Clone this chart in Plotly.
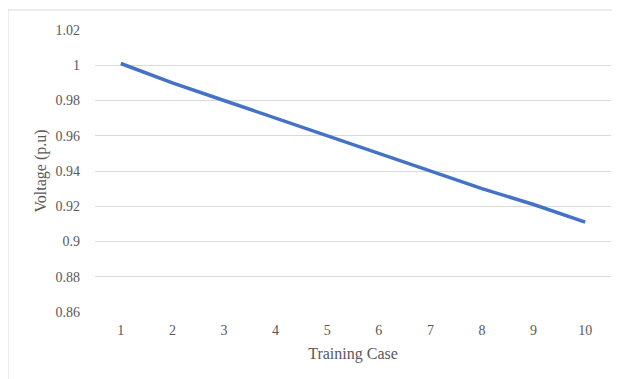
import plotly.graph_objects as go

categories = ["1", "2", "3", "4", "5", "6", "7", "8", "9", "10"]
voltage = [1.001, 0.990, 0.980, 0.970, 0.960, 0.950, 0.940, 0.930, 0.921, 0.911]
y_tick_vals = [0.86, 0.88, 0.90, 0.92, 0.94, 0.96, 0.98, 1.00, 1.02]
y_tick_text = ["0.86", "0.88", "0.9", "0.92", "0.94", "0.96", "0.98", "1", "1.02"]

font_family = "Liberation Serif"
grey = "#595959"
grid = "#d9d9d9"

fig = go.Figure()
fig.add_trace(go.Scatter(
    x=categories, y=voltage, mode="lines",
    line=dict(color="#4472C4", width=3.5),
    showlegend=False,
))

fig.update_layout(
    width=612, height=371,
    margin=dict(l=87, r=9, t=22, b=67),
    paper_bgcolor="white", plot_bgcolor="white",
    font=dict(family=font_family, color=grey, size=14),
    xaxis=dict(
        type="category",
        range=[-0.5, 9.5],
        showgrid=False, zeroline=False, showline=False,
        ticks="", ticklabelstandoff=8,
        tickfont=dict(size=14, color=grey, family=font_family),
        title=dict(text="Training Case", font=dict(size=16, color=grey, family=font_family), standoff=10),
    ),
    yaxis=dict(
        range=[0.86, 1.02],
        tickvals=y_tick_vals, ticktext=y_tick_text,
        showgrid=True, gridcolor=grid, gridwidth=1,
        zeroline=False, showline=False,
        ticks="", ticklabelstandoff=14,
        tickfont=dict(size=14, color=grey, family=font_family),
        title=dict(text="Voltage (p.u)", font=dict(size=16, color=grey, family=font_family), standoff=4),
    ),
    shapes=[
        dict(type="line", xref="paper", yref="paper",
             x0=-0.1686, x1=1.2, y0=1.0709, y1=1.0709,
             line=dict(color=grid, width=1)),
        dict(type="line", xref="paper", yref="paper",
             x0=-0.1686, x1=-0.1686, y0=-0.5, y1=1.0709,
             line=dict(color=grid, width=1)),
    ],
)

fig.write_html("out.html")
